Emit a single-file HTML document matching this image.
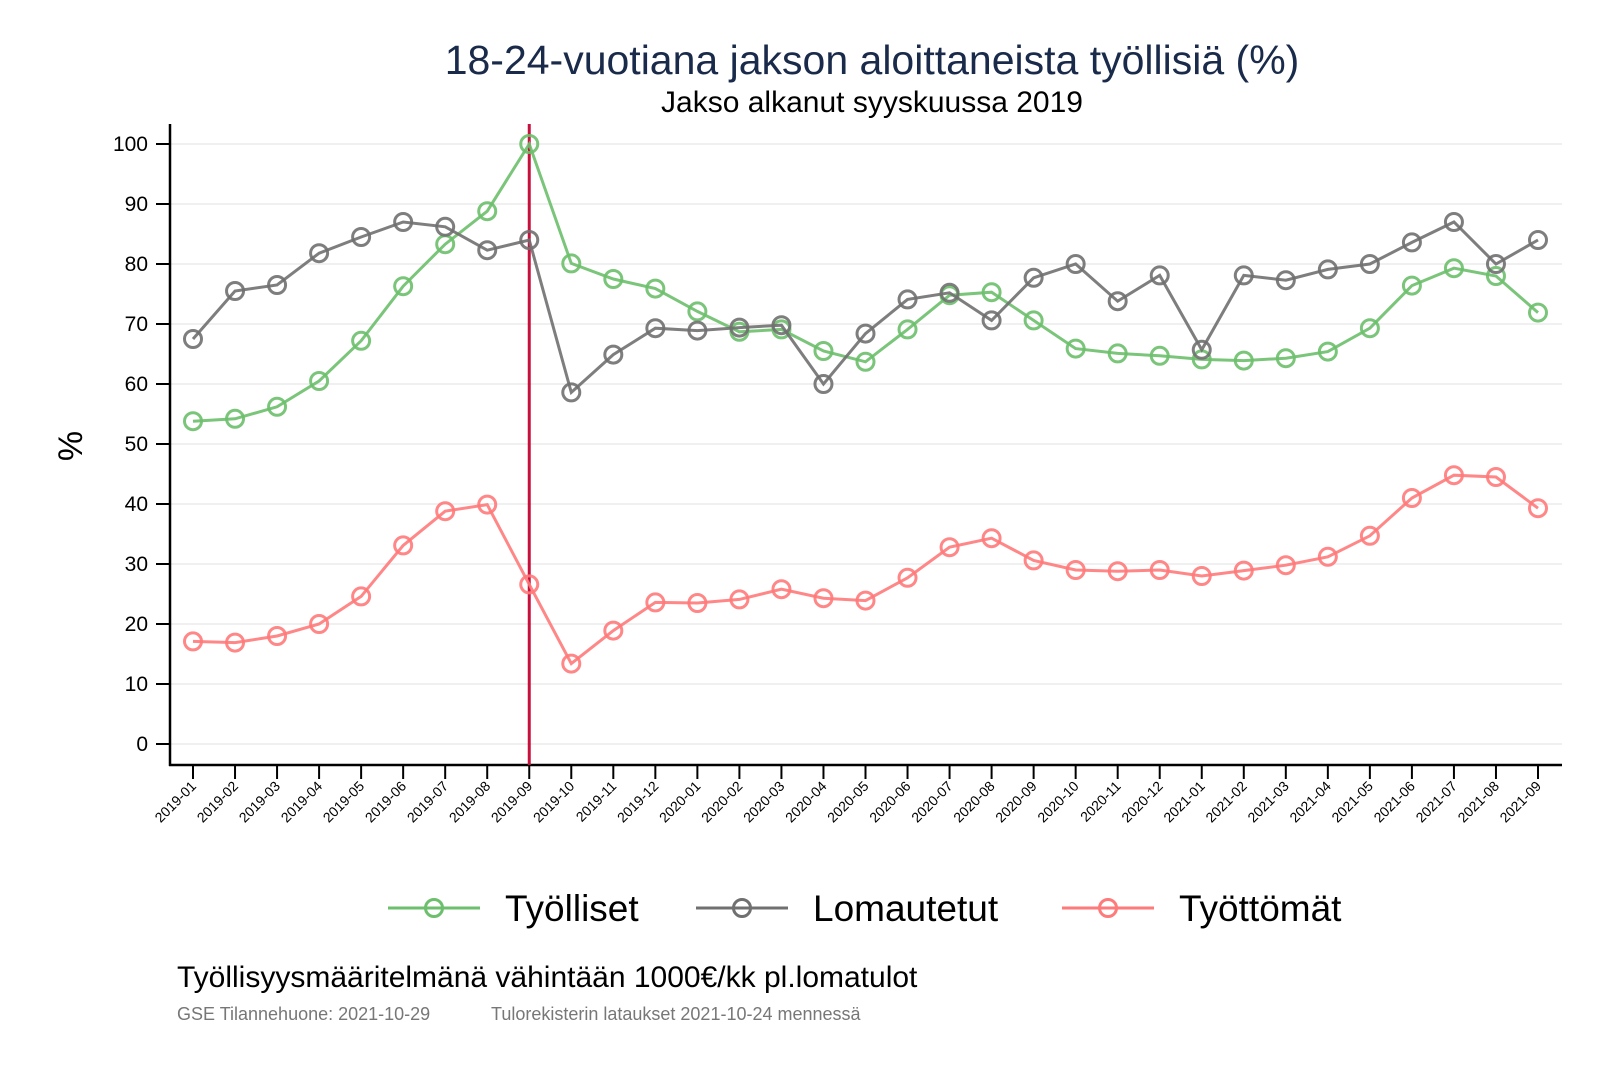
<!DOCTYPE html>
<html><head><meta charset="utf-8"><style>
body{margin:0;background:#fff;}
svg{display:block;font-family:"Liberation Sans",Arial,sans-serif;}
</style></head><body>
<svg id="chart" width="1600" height="1067" viewBox="0 0 1600 1067">
<text x="872" y="74" font-size="41" fill="#1a2a4a" text-anchor="middle">18-24-vuotiana jakson aloittaneista työllisiä (%)</text>
<text x="872" y="112" font-size="30" fill="#000" text-anchor="middle">Jakso alkanut syyskuussa 2019</text>
<text transform="translate(82,446) rotate(-90)" font-size="34" text-anchor="middle">%</text>
<g id="grid"></g><g id="axes"></g><g id="series"></g>
<g>
 <g><line x1="388" y1="908" x2="480" y2="908" stroke="#6cbf6c" stroke-width="3"/><circle cx="434" cy="908" r="8.5" fill="none" stroke="#6cbf6c" stroke-width="3"/><text x="505" y="921" font-size="37">Työlliset</text></g>
 <g><line x1="696" y1="908" x2="788" y2="908" stroke="#707070" stroke-width="3"/><circle cx="742" cy="908" r="8.5" fill="none" stroke="#707070" stroke-width="3"/><text x="813" y="921" font-size="37">Lomautetut</text></g>
 <g><line x1="1062" y1="908" x2="1154" y2="908" stroke="#ff7a7a" stroke-width="3"/><circle cx="1108" cy="908" r="8.5" fill="none" stroke="#ff7a7a" stroke-width="3"/><text x="1179" y="921" font-size="37">Työttömät</text></g>
</g>
<text x="177" y="987" font-size="30">Työllisyysmääritelmänä vähintään 1000€/kk pl.lomatulot</text>
<text x="177" y="1020" font-size="18" fill="#777">GSE Tilannehuone: 2021-10-29</text>
<text x="491" y="1020" font-size="18" fill="#777">Tulorekisterin lataukset 2021-10-24 mennessä</text>
</svg>
<script>
const categories=["2019-01","2019-02","2019-03","2019-04","2019-05","2019-06","2019-07","2019-08","2019-09","2019-10","2019-11","2019-12","2020-01","2020-02","2020-03","2020-04","2020-05","2020-06","2020-07","2020-08","2020-09","2020-10","2020-11","2020-12","2021-01","2021-02","2021-03","2021-04","2021-05","2021-06","2021-07","2021-08","2021-09"];
const tyolliset=[53.8,54.2,56.2,60.5,67.2,76.3,83.3,88.8,100,80.1,77.5,75.9,72.1,68.7,69.1,65.5,63.7,69.1,74.8,75.3,70.6,65.9,65.1,64.7,64.1,63.9,64.3,65.4,69.3,76.4,79.3,78.0,71.9];
const lomautetut=[67.5,75.5,76.5,81.8,84.5,87.0,86.2,82.3,84.0,58.6,64.9,69.3,68.9,69.4,69.8,60.0,68.4,74.1,75.2,70.6,77.7,80.0,73.8,78.1,65.7,78.1,77.3,79.1,80.0,83.6,87.0,80.0,84.0];
const tyottomat=[17.1,16.9,18.0,20.0,24.6,33.1,38.8,39.9,26.6,13.4,18.9,23.6,23.5,24.1,25.8,24.3,23.9,27.7,32.8,34.3,30.6,29.0,28.8,29.0,28.0,28.9,29.8,31.2,34.7,41.0,44.8,44.5,39.3];
const yTicks=[0,10,20,30,40,50,60,70,80,90,100];
const markerCategory="2019-09";

const NS="http://www.w3.org/2000/svg";
const x=i=>193+i*(1538-193)/(categories.length-1);
const y=v=>744-v*6.0;
function mk(tag,attrs,parent){const e=document.createElementNS(NS,tag);for(const k in attrs)e.setAttribute(k,attrs[k]);parent.appendChild(e);return e;}
const grid=document.getElementById('grid'),axes=document.getElementById('axes'),series=document.getElementById('series');
yTicks.forEach(t=>{
 const g=mk('line',{x1:170,x2:1562,y1:y(t),y2:y(t),stroke:'#ececec','stroke-width':1.5},grid);
 
 
 const tk=mk('line',{x1:156,x2:170,y1:y(t),y2:y(t),stroke:'#000','stroke-width':2},axes);
 
 
 const tx=mk('text',{x:148,y:y(t)+7,'font-size':21,'text-anchor':'end'},axes);
 tx.textContent=t;
 
 
});
const ya=mk('line',{x1:170,x2:170,y1:124,y2:766,stroke:'#000','stroke-width':2.5},axes);


const xa=mk('line',{x1:169,x2:1562,y1:765,y2:765,stroke:'#000','stroke-width':2.5},axes);


categories.forEach((c,i)=>{
 const tk=mk('line',{x1:x(i),x2:x(i),y1:765,y2:779,stroke:'#000','stroke-width':2},axes);
 
 
 const tx=mk('text',{transform:`translate(${x(i)+4},${787}) rotate(-45)`,'font-size':14,'text-anchor':'end'},axes);
 tx.textContent=c;
 
 
});
const mi=categories.indexOf(markerCategory);
const vl=mk('line',{x1:x(mi),x2:x(mi),y1:124,y2:765,stroke:'#c8103c','stroke-width':3},axes);


function drawSeries(vals,color,name){
 const g=mk('g',{},series);
 
 
 const pl=mk('polyline',{points:vals.map((v,i)=>x(i)+','+y(v)).join(' '),fill:'none',stroke:color,'stroke-width':3,'stroke-opacity':0.9},g);
 
 
 vals.forEach((v,i)=>{
  const c=mk('circle',{cx:x(i),cy:y(v),r:8.5,fill:'none',stroke:color,'stroke-width':3,'stroke-opacity':0.9},g);
  
  
 });
}
drawSeries(tyolliset,'#6cbf6c','tyolliset');
drawSeries(lomautetut,'#707070','lomautetut');
drawSeries(tyottomat,'#ff7a7a','tyottomat');
</script>
</body></html>
